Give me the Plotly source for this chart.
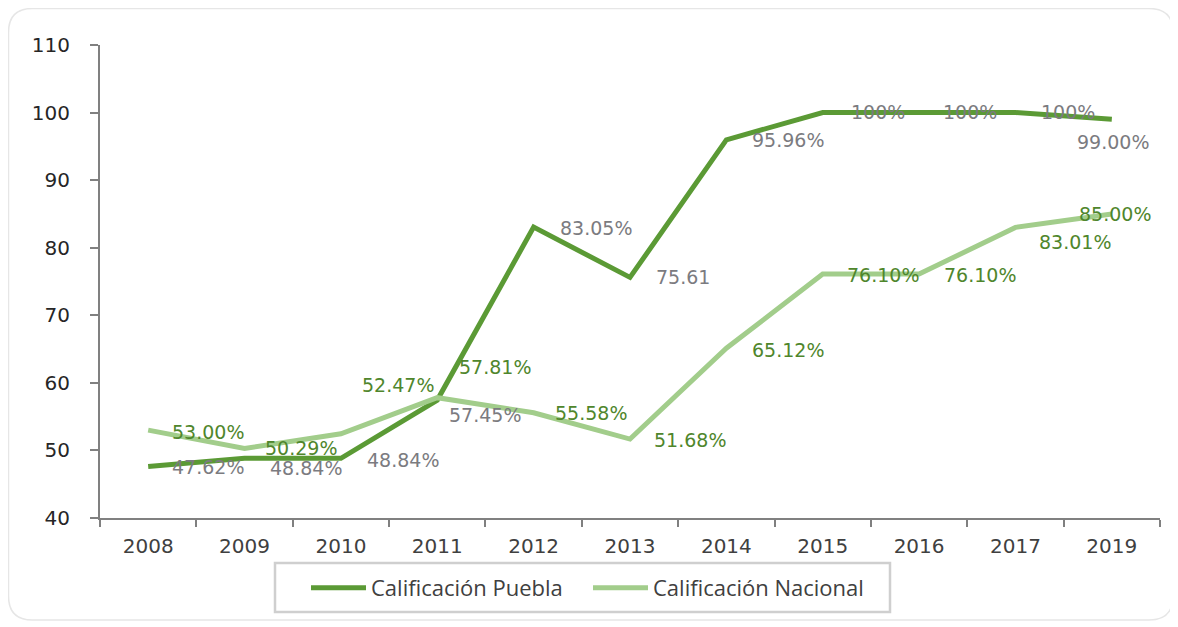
import plotly.graph_objects as go

# data
years = ["2008", "2009", "2010", "2011", "2012", "2013", "2014",
         "2015", "2016", "2017", "2019"]
puebla = [47.62, 48.84, 48.84, 57.45, 83.05, 75.61, 95.96, 100, 100, 100, 99.00]
puebla_text = ["47.62%", "48.84%", "48.84%", "57.45%", "83.05%", "75.61",
               "95.96%", "100%", "100%", "100%", "99.00%"]
nacional = [53.00, 50.29, 52.47, 57.81, 55.58, 51.68, 65.12, 76.10, 76.10, 83.01, 85.00]
nacional_text = ["53.00%", "50.29%", "52.47%", "57.81%", "55.58%", "51.68%",
                 "65.12%", "76.10%", "76.10%", "83.01%", "85.00%"]

# label offsets in px (x, y up)
puebla_off = [(60, 0), (61, -10), (62, -2), (48, -15), (62, -1), (53, 0),
              (62, 0), (55, 1), (51, 1), (53, 1), (1, -23)]
nacional_off = [(60, -2), (56, 0), (57, 49), (58, 31), (57, 0), (60, -1),
                (62, -2), (60, -1), (61, -1), (60, -15), (3, 0)]

# page body adds an 8px margin on top/left
W, H = 1170, 619
ML, MR, MT, MB = 92, 18, 37, 109
pw, ph = W - ML - MR, H - MT - MB

c_puebla = "#5b9a35"
c_nacional = "#a2cd8b"
c_green_lbl = "#4f862c"
c_gray_lbl = "#7b7b80"

fig = go.Figure()
fig.add_trace(go.Scatter(x=years, y=puebla, mode="lines", name="Calificación Puebla",
                         line=dict(color=c_puebla, width=5)))
fig.add_trace(go.Scatter(x=years, y=nacional, mode="lines", name="Calificación Nacional",
                         line=dict(color=c_nacional, width=5)))

annotations = []
for i, (y, t, (dx, dy)) in enumerate(zip(puebla, puebla_text, puebla_off)):
    annotations.append(dict(x=i, y=y, xref="x", yref="y", text=t, showarrow=False,
                            xshift=dx, yshift=dy,
                            font=dict(family="DejaVu Sans", size=19, color=c_gray_lbl)))
for i, (y, t, (dx, dy)) in enumerate(zip(nacional, nacional_text, nacional_off)):
    annotations.append(dict(x=i, y=y, xref="x", yref="y", text=t, showarrow=False,
                            xshift=dx, yshift=dy,
                            font=dict(family="DejaVu Sans", size=19, color=c_green_lbl)))


def px(v):  # figure pixel -> paper fraction
    return (v - ML) / pw


def py(v):
    return (H - MB - v) / ph


# rounded card outline
x0, x1, y0, y1, r = 0.5, 1165, 0.5, 612, 24
card = (f"M {px(x0 + r)} {py(y0)} L {px(x1 - r)} {py(y0)} "
        f"Q {px(x1)} {py(y0)} {px(x1)} {py(y0 + r)} L {px(x1)} {py(y1 - r)} "
        f"Q {px(x1)} {py(y1)} {px(x1 - r)} {py(y1)} L {px(x0 + r)} {py(y1)} "
        f"Q {px(x0)} {py(y1)} {px(x0)} {py(y1 - r)} L {px(x0)} {py(y0 + r)} "
        f"Q {px(x0)} {py(y0)} {px(x0 + r)} {py(y0)} Z")

fig.update_layout(
    width=W, height=H,
    margin=dict(l=ML, r=MR, t=MT, b=MB),
    paper_bgcolor="white",
    plot_bgcolor="white",
    font=dict(family="DejaVu Sans"),
    showlegend=True,
    annotations=annotations,
    shapes=[
        dict(type="path", path=card, xref="paper", yref="paper",
             line=dict(color="#e6e6e6", width=1.5), layer="below"),
        # legend frame
        dict(type="rect", xref="paper", yref="paper",
             x0=px(267), x1=px(882), y0=py(555), y1=py(604),
             line=dict(color="#cfcfcf", width=2.5), fillcolor="white", layer="below"),
    ],
    legend=dict(orientation="h", x=px(298), xanchor="left", y=py(580), yanchor="middle",
                borderwidth=0, bgcolor="rgba(0,0,0,0)",
                font=dict(family="Open Sans", size=22, color="#404040"),
                itemwidth=55, entrywidth=212, entrywidthmode="pixels"),
)
fig.update_xaxes(type="category", range=[-0.5, 10.5], showline=True, linecolor="#808080",
                 linewidth=2, ticks="outside", tickson="boundaries", ticklen=7,
                 tickcolor="#808080", tickwidth=2, showgrid=False, zeroline=False,
                 tickfont=dict(family="DejaVu Sans", size=20, color="#404040"),
                 ticklabelstandoff=9)
fig.update_yaxes(range=[40, 110], dtick=10, showline=True, linecolor="#808080",
                 linewidth=2, ticks="outside", ticklen=8, tickcolor="#808080",
                 tickwidth=2, showgrid=False, zeroline=False,
                 tickfont=dict(family="DejaVu Sans", size=20, color="#262626"),
                 ticklabelstandoff=16)

fig.write_html("out.html")
